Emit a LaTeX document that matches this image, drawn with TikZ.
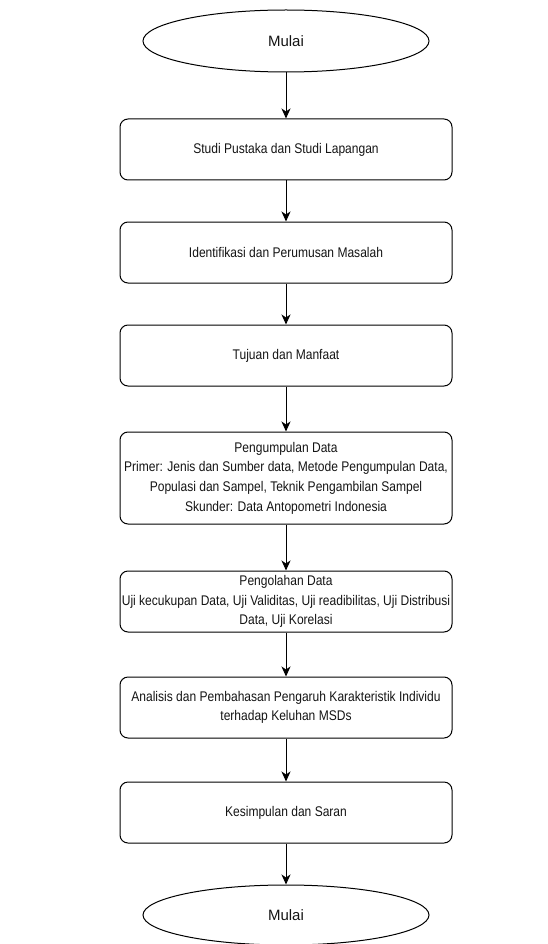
\documentclass[tikz,border=0pt]{standalone}
\usepackage{fontspec}
\setmainfont{Liberation Sans}[FakeStretch=0.86]
\newfontfamily\termfont{Liberation Sans}
\usetikzlibrary{arrows.meta,positioning,shapes.geometric}
\definecolor{fcline}{RGB}{0,0,0}
\definecolor{fctext}{RGB}{20,20,20}

\begin{document}
\begin{tikzpicture}[x=1pt,y=-1pt,
  procbox/.style={draw=fcline,line width=1pt,rounded corners=8pt,
    minimum width=332pt,minimum height=61pt,align=center,text=fctext,
    inner sep=0pt,font=\fontsize{14}{19.7}\selectfont},
  termnode/.style={draw=fcline,line width=1pt,ellipse,minimum width=286pt,
    minimum height=62pt,inner sep=0pt,text=fctext,
    font=\termfont\fontsize{15}{18}\selectfont},
  flowarrow/.style={-{Stealth[length=10pt,width=9pt,inset=3pt]},line width=1pt,fcline}]
  \useasboundingbox (0,0) rectangle (547,944);
  % start and end
  \node[termnode] (start) at (286,41) {Mulai};
  \node[termnode,minimum height=60pt] (finish) at (286,915) {Mulai};
  % process steps
  \node[procbox] (studi) at (286,149.5) {Studi Pustaka dan Studi Lapangan};
  \node[procbox] (ident) at (286,252.5) {Identifikasi dan Perumusan Masalah};
  \node[procbox] (tujuan) at (286,355.5) {Tujuan dan Manfaat};
  \node[procbox,minimum height=92pt] (kumpul) at (286,478)
    {Pengumpulan Data\\Primer: Jenis dan Sumber data, Metode Pengumpulan Data,\\
     Populasi dan Sampel, Teknik Pengambilan Sampel\\Skunder: Data Antopometri Indonesia};
  \node[procbox] (olah) at (286,601.5)
    {Pengolahan Data\\Uji kecukupan Data, Uji Validitas, Uji readibilitas, Uji Distribusi\\
     Data, Uji Korelasi};
  \node[procbox] (analisis) at (286,707.5)
    {Analisis dan Pembahasan Pengaruh Karakteristik Individu\\terhadap Keluhan MSDs};
  \node[procbox] (simpul) at (286,812.5) {Kesimpulan dan Saran};
  % connectors
  \draw[flowarrow] (start.south) -- (studi.north);
  \draw[flowarrow] (studi.south) -- (ident.north);
  \draw[flowarrow] (ident.south) -- (tujuan.north);
  \draw[flowarrow] (tujuan.south) -- (kumpul.north);
  \draw[flowarrow] (kumpul.south) -- (olah.north);
  \draw[flowarrow] (olah.south) -- (analisis.north);
  \draw[flowarrow] (analisis.south) -- (simpul.north);
  \draw[flowarrow] (simpul.south) -- (finish.north);
\end{tikzpicture}
\end{document}
